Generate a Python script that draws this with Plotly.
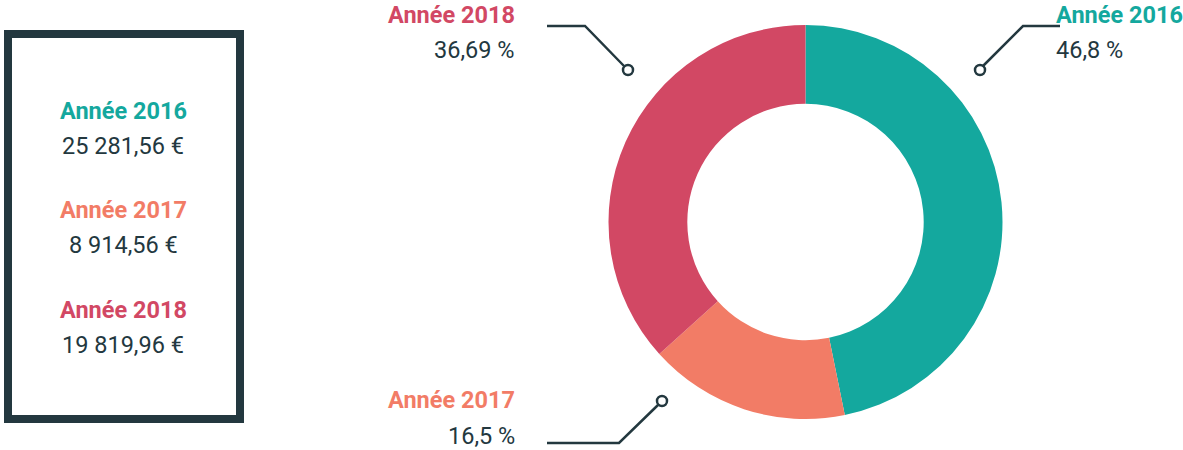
import plotly.graph_objects as go

# ---- data ----
years = ["Année 2016", "Année 2017", "Année 2018"]
amounts = [25281.56, 8914.56, 19819.96]
colors = ["#14a89e", "#f27c66", "#d24864"]

DARK = "#23383f"
W, H = 1183, 450
FONT = "Roboto"
FS = 23.5


def fmt_money(v):
    s = f"{v:,.2f}"
    s = s.replace(",", " ").replace(".", ",")
    return s + " €"


def fmt_pct(p):
    s = f"{p:.2f}".rstrip("0").rstrip(".")
    return s.replace(".", ",") + " %"


total = sum(amounts)
pcts = [a / total * 100 for a in amounts]


def px(x):
    return x / W


def py(y):
    return 1 - y / H


# donut geometry (pixels)
cx, cy, r = 805.5, 222, 197

fig = go.Figure()
fig.add_trace(go.Pie(
    labels=years,
    values=amounts,
    marker=dict(colors=colors, line=dict(width=0)),
    hole=0.6,
    sort=False,
    direction="clockwise",
    rotation=0,
    textinfo="none",
    hoverinfo="label+percent",
    showlegend=False,
    domain=dict(x=[px(cx - r), px(cx + r)], y=[py(cy + r), py(cy - r)]),
))

shapes = []
annotations = []

# ---- left box ----
shapes.append(dict(type="rect", xref="paper", yref="paper",
                   x0=px(8), x1=px(240), y0=py(419), y1=py(34),
                   line=dict(color=DARK, width=8), fillcolor="rgba(0,0,0,0)"))

box_title_y = [111, 210, 310]
for i, (yr, amt, col) in enumerate(zip(years, amounts, colors)):
    annotations.append(dict(x=px(123), y=py(box_title_y[i]), xref="paper", yref="paper",
                            text=f"<b>{yr}</b>", showarrow=False,
                            font=dict(family=FONT, size=FS, color=col),
                            xanchor="center", yanchor="middle"))
    annotations.append(dict(x=px(123), y=py(box_title_y[i] + 35), xref="paper", yref="paper",
                            text=fmt_money(amt), showarrow=False,
                            font=dict(family=FONT, size=FS, color=DARK),
                            xanchor="center", yanchor="middle"))

# ---- callouts ----
callouts = [
    dict(tx=1054, anchor="left", ty=15, vy=50,
         pts=[(1060, 26), (1023, 26), (983, 66)], circ=(980, 70)),
    dict(tx=517, anchor="right", ty=400, vy=436,
         pts=[(547, 443), (619, 443), (658, 405)], circ=(662, 401)),
    dict(tx=517, anchor="right", ty=15, vy=50,
         pts=[(547, 26), (585, 26), (624, 66)], circ=(628, 70)),
]

for i, c in enumerate(callouts):
    annotations.append(dict(x=px(c["tx"]), y=py(c["ty"]), xref="paper", yref="paper",
                            text=f"<b>{years[i]}</b>", showarrow=False,
                            font=dict(family=FONT, size=FS, color=colors[i]),
                            xanchor=c["anchor"], yanchor="middle"))
    annotations.append(dict(x=px(c["tx"]), y=py(c["vy"]), xref="paper", yref="paper",
                            text=fmt_pct(pcts[i]), showarrow=False,
                            font=dict(family=FONT, size=FS, color=DARK),
                            xanchor=c["anchor"], yanchor="middle"))
    path = "M " + " L ".join(f"{px(x)},{py(y)}" for x, y in c["pts"])
    shapes.append(dict(type="path", xref="paper", yref="paper", path=path,
                       line=dict(color=DARK, width=2.5)))
    ccx, ccy = c["circ"]
    rr = 5
    shapes.append(dict(type="circle", xref="paper", yref="paper",
                       x0=px(ccx - rr), x1=px(ccx + rr), y0=py(ccy + rr), y1=py(ccy - rr),
                       line=dict(color=DARK, width=2.5), fillcolor="white"))

fig.update_layout(
    width=W, height=H,
    margin=dict(l=0, r=0, t=0, b=0),
    paper_bgcolor="white", plot_bgcolor="white",
    shapes=shapes, annotations=annotations,
    font=dict(family=FONT),
)

fig.write_html("out.html",
               config={"displayModeBar": False},
               post_script="document.body.style.margin='0';document.body.style.overflow='hidden';")
